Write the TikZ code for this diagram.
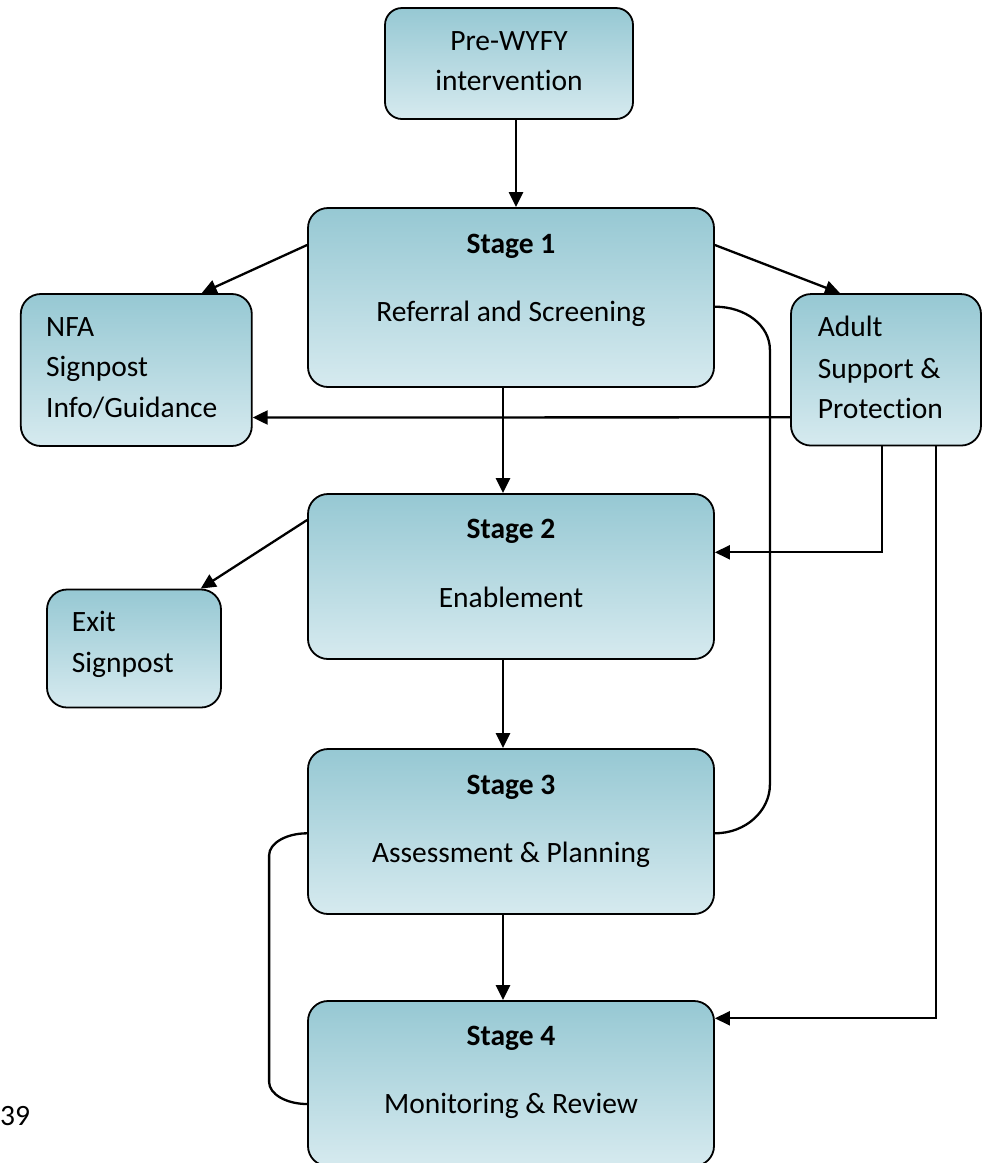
\documentclass[tikz,border=0pt]{standalone}
\usepackage{fontspec}
\setmainfont{Carlito}[Ligatures={NoCommon}]
\usetikzlibrary{arrows.meta}
\definecolor{boxtop}{RGB}{150,200,211}
\definecolor{boxbottom}{RGB}{214,234,239}
\tikzset{
  box/.style={draw=black, line width=1.8pt, rounded corners=20pt,
    top color=boxtop, bottom color=boxbottom, inner sep=0pt},
  txt/.style={inner sep=0pt, font=\fontsize{29.5}{40}\selectfont, text=black},
  arr/.style={line width=2.3pt, -{Triangle[length=15pt,width=14pt]}},
  link/.style={line width=2.3pt}
}
\begin{document}
\begin{tikzpicture}[x=1pt,y=-1pt]
\useasboundingbox (0,0) rectangle (985,1163);

% boxes
\node[box, rounded corners=17pt, minimum width=248pt, minimum height=111pt] (pre) at (509,63.5) {};
\node[box, minimum width=406pt, minimum height=179pt] (s1) at (511,297.5) {};
\node[box, minimum width=231pt, minimum height=152pt] (nfa) at (136.3,370) {};
\node[box, minimum width=190pt, minimum height=151.5pt] (adult) at (886,369.8) {};
\node[box, minimum width=406pt, minimum height=165pt] (s2) at (511,576.5) {};
\node[box, minimum width=174pt, minimum height=118pt] (exit) at (134,648.5) {};
\node[box, minimum width=406pt, minimum height=165pt] (s3) at (511,831.5) {};
\node[box, minimum width=406pt, minimum height=165pt] (s4) at (511,1083.5) {};

% box texts
\node[txt, anchor=base] (preA) at (509,50) {Pre-WYFY};
\node[txt, anchor=base] (preB) at (509,90.7) {intervention};
\node[txt, anchor=base] (s1A) at (511,253) {\textbf{Stage 1}};
\node[txt, anchor=base] (s1B) at (511,321) {Referral and Screening};
\node[txt, anchor=base west] (nfaA) at (46,336.7) {NFA};
\node[txt, anchor=base west] (nfaB) at (46,376.7) {Signpost};
\node[txt, anchor=base west] (nfaC) at (46,417.7) {Info/Guidance};
\node[txt, anchor=base west] (adA) at (817.7,336) {Adult};
\node[txt, anchor=base west] (adB) at (817.7,378.3) {Support \&};
\node[txt, anchor=base west] (adC) at (817.7,418) {Protection};
\node[txt, anchor=base] (s2A) at (511,538) {\textbf{Stage 2}};
\node[txt, anchor=base] (s2B) at (511,607) {Enablement};
\node[txt, anchor=base west] (exA) at (71.7,631.7) {Exit};
\node[txt, anchor=base west] (exB) at (71.7,672.7) {Signpost};
\node[txt, anchor=base] (s3A) at (511,794) {\textbf{Stage 3}};
\node[txt, anchor=base] (s3B) at (511,862) {Assessment \& Planning};
\node[txt, anchor=base] (s4A) at (511,1045.5) {\textbf{Stage 4}};
\node[txt, anchor=base] (s4B) at (511,1113.5) {Monitoring \& Review};

% page number
\node[txt, anchor=base west] (page) at (0,1125) {39};

% arrows
\draw[arr] ([xshift=7pt]pre.south) -- ([xshift=5pt]s1.north);
\draw[arr] ([yshift=52.5pt]s1.west) -- ([xshift=65.4pt]nfa.north);
\draw[arr] ([yshift=52.5pt]s1.east) -- ([xshift=-46pt]adult.north);
\draw[arr] ([xshift=-8pt]s1.south) -- ([xshift=-8pt]s2.north);
\draw[arr] ([yshift=-47.5pt]adult.west) -- ([yshift=-47.5pt]nfa.east);
\draw[arr] ([xshift=-4pt]adult.south) |- ([yshift=24.2pt]s2.east);
\draw[arr] ([xshift=50pt]adult.south) |- ([yshift=65.2pt]s4.east);
\draw[arr] ([yshift=56.5pt]s2.west) -- ([xshift=66.7pt]exit.north);
\draw[arr] ([xshift=-8pt]s2.south) -- ([xshift=-8pt]s3.north);
\draw[arr] ([xshift=-8pt]s3.south) -- ([xshift=-8pt]s4.north);

% loops without heads
\draw[link] ([yshift=-9.2pt]s1.east) .. controls +(31,0) and +(0,-24) .. ++(55,43)
  -- ++(0,435) .. controls +(0,26) and +(31,0) .. ([yshift=-1.8pt]s3.east);
\draw[link] ([yshift=-1.8pt]s3.west) .. controls +(-21,0) and +(0,-12) .. ++(-38,22)
  -- ++(0,226.7) .. controls +(0,12) and +(-21,0) .. ([yshift=-20.5pt]s4.west);
\end{tikzpicture}
\end{document}
